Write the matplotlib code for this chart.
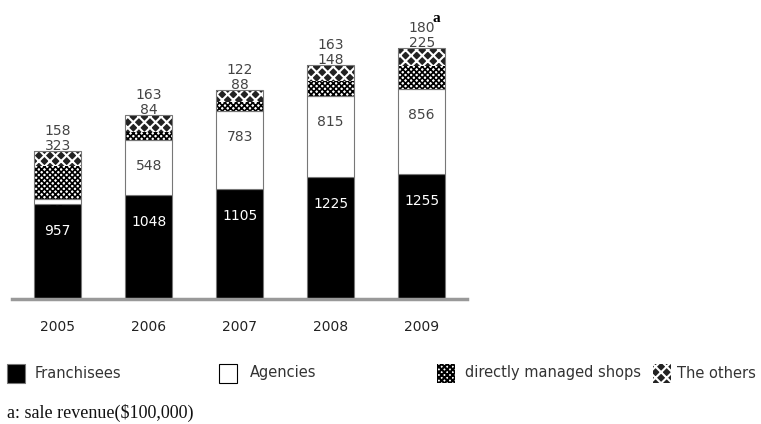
import matplotlib
matplotlib.use('Agg')
import matplotlib.pyplot as plt
from matplotlib.patches import Rectangle

# Ventas por canal (unidad: $100,000)
years = ['2005', '2006', '2007', '2008', '2009']
franchisees = [957, 1048, 1105, 1225, 1255]
agencies = [51, 548, 783, 815, 856]
direct_shops = [323, 84, 88, 148, 225]
others = [158, 163, 122, 163, 180]

plt.rcParams['font.family'] = ['DejaVu Sans']
plt.rcParams['hatch.color'] = 'black'

PT = 72.0 / 100  # pixeles -> puntos

fig = plt.figure(figsize=(7.61, 4.24), dpi=100)
ax = fig.add_axes([0.016, 0.295, 0.598, 0.66])

x = list(range(len(years)))
w = 0.52
edge = '#777777'

ax.bar(x, franchisees, w, color='black', edgecolor=edge, lw=0.8)
bottom2 = franchisees
ax.bar(x, agencies, w, bottom=bottom2, color='white', edgecolor=edge, lw=0.8)
bottom3 = [a + b for a, b in zip(bottom2, agencies)]
plt.rcParams['hatch.linewidth'] = 1.2
ax.bar(x, direct_shops, w, bottom=bottom3, color='white', edgecolor='black',
       hatch='xxxxxx', lw=0)
bottom4 = [a + b for a, b in zip(bottom3, direct_shops)]
plt.rcParams['hatch.linewidth'] = 1.5
ax.bar(x, others, w, bottom=bottom4, color='#222222', edgecolor='white',
       hatch='XXX', lw=0)
tops = [a + b for a, b in zip(bottom4, others)]
# contorno gris de la parte superior
for xi, b3v, t in zip(x, bottom3, tops):
    ax.add_patch(Rectangle((xi - w / 2, b3v), w, t - b3v, fill=False,
                           edgecolor=edge, lw=0.8))

# etiquetas de valores
for xi, f, a, b3v, d, o, t in zip(x, franchisees, agencies, bottom3,
                                    direct_shops, others, tops):
    ax.annotate(str(f), (xi, f), xytext=(0, -27 * PT), textcoords='offset points',
                ha='center', va='center', color='white', fontsize=10, zorder=5)
    if a > 200:
        col, dy = '#444444', -26
    else:
        # segmento muy delgado: la etiqueta queda casi tapada
        col, dy = 'black', -12
    ax.annotate(str(a), (xi, b3v), xytext=(0, dy * PT), textcoords='offset points',
                ha='center', va='center', color=col, fontsize=10, zorder=4)
    ax.annotate(str(d), (xi, t), xytext=(0, 5 * PT), textcoords='offset points',
                ha='center', va='center', color='#444444', fontsize=10)
    ax.annotate(str(o), (xi, t), xytext=(0, 20 * PT), textcoords='offset points',
                ha='center', va='center', color='#444444', fontsize=10)

ax.annotate('a', (x[-1], tops[-1]), xytext=(15 * PT, 30 * PT),
            textcoords='offset points', ha='center', va='center',
            fontsize=11, fontweight='bold', family='Liberation Serif')

ax.set_xlim(-0.5, 4.5)
ax.set_ylim(0, 2810)
for s in ['top', 'right', 'left']:
    ax.spines[s].set_visible(False)
ax.spines['bottom'].set_color('#999999')
ax.spines['bottom'].set_linewidth(2.5)
ax.set_yticks([])
ax.set_xticks(x)
ax.set_xticklabels(years, fontsize=10, color='#222222')
ax.tick_params(axis='x', length=0, pad=15)

# leyenda manual
H = 424.0
W = 761.0
items = [
    (7, 35, 'Franchisees', 'black', None, edge),
    (219, 250, 'Agencies', 'white', None, 'black'),
    (437, 465, 'directly managed shops', 'white', 'xxxxxx', 'black'),
    (653, 677, 'The others', '#222222', 'XXX', 'white'),
]
for px, tx, label, fc, hatch, ec in items:
    r = Rectangle((px / W, 1 - 383 / H), 18 / W, 19 / H,
                  transform=fig.transFigure, facecolor=fc, hatch=hatch,
                  edgecolor=ec, lw=0.8 if hatch is None else 0)
    fig.patches.append(r)
    fig.text(tx / W, 1 - 373 / H, label, fontsize=10.5,
             color='#333333', va='center')

fig.text(7 / W, 1 - 413 / H, 'a: sale revenue($100,000)', fontsize=13,
         family='Liberation Serif', va='center', color='#111111')

fig.savefig('out.png', dpi=100)
